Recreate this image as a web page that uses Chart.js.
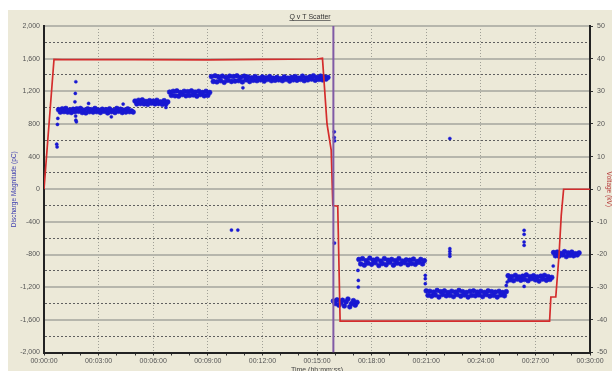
<!DOCTYPE html>
<html><head><meta charset="utf-8">
<script src="https://cdn.jsdelivr.net/npm/chart.js@4.4.1/dist/chart.umd.min.js"></script>
<style>
html,body{margin:0;padding:0;background:#fff;overflow:hidden;width:612px;height:371px;}
#wrap{position:absolute;left:8px;top:10px;width:604px;height:366px;}
canvas{display:block;background:#ECE9D8;}
</style></head><body>
<div id="wrap"><canvas id="c" width="604" height="366"></canvas></div>
<script>
// ---- data (time in minutes, discharge in pC, voltage in kV) ----
const sampleStep = 0.1;
const bandStarts = [0.8, 5.0, 6.9, 9.2, 15.9, 17.3, 21.0, 25.5, 28.0];
const bandA = [975,945,985,950,990,945,970,940,980,950,
  985,955,990,940,970,935,985,950,975,945,
  990,950,970,940,980,955,975,935,985,950,
  965,940,990,955,980,940,970,945,985,950,
  960,945];
const bandB = [1080,1045,1090,1050,1095,1045,1075,1040,1085,1055,
  1080,1045,1090,1050,1070,1040,1085,1045,1070];
const bandC = [1190,1150,1200,1145,1205,1140,1185,1160,1200,1145,
  1195,1150,1205,1155,1190,1140,1200,1160,1185,1145,
  1200,1150,1185];
const bandD = [1380,1320,1390,1315,1375,1330,1385,1310,1370,1335,
  1385,1320,1380,1325,1390,1330,1370,1315,1385,1340,
  1375,1320,1365,1335,1380,1330,1360,1340,1375,1325,
  1365,1345,1380,1330,1360,1335,1370,1340,1355,1330,
  1375,1345,1360,1325,1370,1340,1380,1335,1360,1345,
  1385,1330,1365,1340,1375,1350,1390,1335,1370,1345,
  1385,1340,1375,1350,1370];
const bandE = [-1370,-1400,-1355,-1420,-1390,-1360,-1430,-1380,-1345,-1440,
  -1400,-1365,-1420,-1385];
const bandF = [-860,-915,-850,-930,-875,-905,-845,-920,-870,-900,
  -855,-935,-880,-910,-850,-925,-870,-895,-860,-930,
  -875,-905,-850,-915,-880,-900,-865,-925,-870,-910,
  -855,-920,-885,-895,-860,-915,-875];
const bandG = [-1245,-1300,-1250,-1310,-1260,-1295,-1240,-1320,-1255,-1290,
  -1245,-1305,-1265,-1300,-1250,-1315,-1260,-1290,-1240,-1310,
  -1255,-1295,-1265,-1320,-1250,-1300,-1245,-1305,-1260,-1295,
  -1250,-1315,-1265,-1290,-1245,-1310,-1255,-1300,-1260,-1320,
  -1250,-1295,-1265,-1305,-1255];
const bandH = [-1060,-1110,-1070,-1120,-1055,-1100,-1075,-1115,-1065,-1105,
  -1050,-1120,-1070,-1095,-1060,-1110,-1075,-1125,-1065,-1100,
  -1055,-1115,-1070,-1105,-1080];
const bandI = [-775,-815,-770,-820,-785,-805,-765,-825,-780,-810,
  -770,-815,-790,-805,-780];
const outlierTimes = [0.70,0.72,0.76,0.74,1.70,1.72,1.75,1.74,1.75,1.78,2.45,3.70,4.35,6.70,
  10.30,10.65,10.93,15.95,15.95,15.97,15.96,17.25,17.27,17.27,20.95,20.95,20.95,25.40,25.45,
  22.30,22.30,22.30,22.30,22.30,26.38,26.38,26.38,26.38,26.38,27.98];
const outlierValues = [552,519,868,794,1071,1174,1317,896,846,826,1051,887,1043,1002,
  -500,-500,1243,703,634,593,-659,-994,-1117,-1199,-1055,-1096,-1157,-1178,-1137,
  -728,-760,-790,-822,622,-503,-552,-646,-687,-1190,-940];
const voltageTimes = [0,0.55,1,5,9,12,15,15.3,15.55,15.78,15.87,16.14,16.27,20,27.78,27.85,28.12,28.3,28.42,28.55,30];
const voltageKV = [0,39.8,39.7,39.7,39.6,39.8,39.9,40.1,20,12,-5,-5.2,-40.4,-40.4,-40.4,-33,-33,-20,-8,0,0];
const cursorTime = 15.9;
const titleText = 'Q v T Scatter';
const xTitle = 'Time (hh:mm:ss)';
const yTitle = 'Discharge Magnitude (pC)';
const y2Title = 'Voltage (kV)';

// ---- build datasets ----
const bands = [bandA, bandB, bandC, bandD, bandE, bandF, bandG, bandH, bandI];
const qBandPoints = [];
bands.forEach((vals, b) => vals.forEach((v, i) => qBandPoints.push({x: bandStarts[b] + i * sampleStep, y: v})));
const qOutliers = outlierTimes.map((t, i) => ({x: t, y: outlierValues[i]}));
const voltage = voltageTimes.map((t, i) => ({x: t, y: voltageKV[i]}));

const fmtTime = m => '00:' + String(m).padStart(2, '0') + ':00';
const tickFont = {family: 'Liberation Sans', size: 7};
const qBlue = 'rgb(24,24,210)';

const underlineTitle = {
  id: 'underlineTitle',
  afterDraw(chart) {
    const t = chart.titleBlock; if (!t) return;
    const ctx = chart.ctx;
    ctx.save();
    ctx.font = '7px "Liberation Sans"';
    const w = ctx.measureText(titleText).width;
    const cx = (t.left + t.right) / 2;
    const y = t.top + 10.5;
    ctx.strokeStyle = '#444'; ctx.lineWidth = 0.7;
    ctx.beginPath(); ctx.moveTo(cx - w / 2, y); ctx.lineTo(cx + w / 2, y); ctx.stroke();
    ctx.restore();
  }
};

new Chart(document.getElementById('c'), {
  type: 'scatter',
  data: { datasets: [
    { label: 'Cursor', type: 'line', data: [{x: cursorTime, y: -2000}, {x: cursorTime, y: 2000}], yAxisID: 'y',
      borderColor: 'rgb(128,90,165)', borderWidth: 2, pointRadius: 0, showLine: true, order: 0 },
    { label: 'Voltage', type: 'line', data: voltage, yAxisID: 'yv', borderColor: 'rgb(212,44,44)',
      borderWidth: 1.7, pointRadius: 0, tension: 0, showLine: true, order: 1 },
    { label: 'Q', data: qBandPoints, yAxisID: 'y', backgroundColor: qBlue, borderColor: qBlue,
      pointRadius: 2.4, borderWidth: 0.6, order: 2 },
    { label: 'Q outliers', data: qOutliers, yAxisID: 'y', backgroundColor: qBlue, borderColor: qBlue,
      pointRadius: 1.6, borderWidth: 0.4, order: 2 }
  ]},
  options: {
    responsive: false, animation: false, devicePixelRatio: 1,
    layout: {padding: {left: 0, right: 0, top: 0, bottom: 2}},
    plugins: {
      legend: {display: false}, tooltip: {enabled: false},
      title: {display: true, text: titleText, color: '#333', font: {family: 'Liberation Sans', size: 7, weight: 'normal'},
        padding: {top: 3, bottom: 4.6}}
    },
    scales: {
      x: {
        type: 'linear', min: 0, max: 30,
        afterFit: s => { s.height = 21.5; },
        ticks: {stepSize: 1, autoSkip: false, maxRotation: 0, padding: 1, color: '#555', font: tickFont,
          callback: v => (Math.round(v) % 3 === 0 ? fmtTime(Math.round(v)) : '')},
        grid: {
          color: c => (c.tick && Math.round(c.tick.value) % 3 === 0 && c.tick.value > 0 && c.tick.value < 30) ? 'rgb(160,160,150)' : 'rgba(0,0,0,0)',
          lineWidth: 1, drawTicks: true, tickLength: 3, tickColor: '#333', tickWidth: 1
        },
        border: {display: true, color: '#222', width: 2, dash: c => (c.tick ? [1, 2] : [])},
        title: {display: true, text: xTitle, color: '#444', font: {family: 'Liberation Sans', size: 7}, padding: {top: 0, bottom: 0}}
      },
      y: {
        position: 'left', min: -2000, max: 2000,
        afterFit: s => { s.width = 36; },
        ticks: {stepSize: 200, autoSkip: false, padding: 4, color: '#555', font: tickFont,
          callback: v => (Math.round(v) % 400 === 0 ? Math.round(v).toLocaleString('en-US') : '')},
        grid: {
          drawTicks: false,
          color: c => {
            if (!c.tick) return 'rgba(0,0,0,0)';
            const v = Math.round(c.tick.value);
            if (v === -2000) return 'rgba(0,0,0,0)';
            return v % 400 === 0 ? 'rgb(182,182,172)' : 'rgb(95,95,95)';
          },
          lineWidth: c => (c.tick && Math.round(c.tick.value) % 400 === 0 ? 2 : 1)
        },
        border: {display: true, color: '#222', width: 2,
          dash: c => (c.tick && Math.round(c.tick.value) % 400 !== 0 ? [2, 2] : [])},
        title: {display: true, text: yTitle, color: 'rgb(60,60,175)', font: {family: 'Liberation Sans', size: 6.5}, padding: {top: 2, bottom: 0}}
      },
      yv: {
        position: 'right', min: -50, max: 50,
        afterFit: s => { s.width = 22; },
        ticks: {stepSize: 10, padding: 4, color: '#555', font: tickFont},
        grid: {drawOnChartArea: false, drawTicks: true, tickLength: 3, tickColor: '#333', color: '#333'},
        border: {display: true, color: '#222', width: 2},
        title: {display: true, text: y2Title, color: 'rgb(180,50,50)', font: {family: 'Liberation Sans', size: 6.5, lineHeight: 1}, padding: {top: 0, bottom: 0}}
      }
    }
  },
  plugins: [underlineTitle]
});
</script></body></html>
